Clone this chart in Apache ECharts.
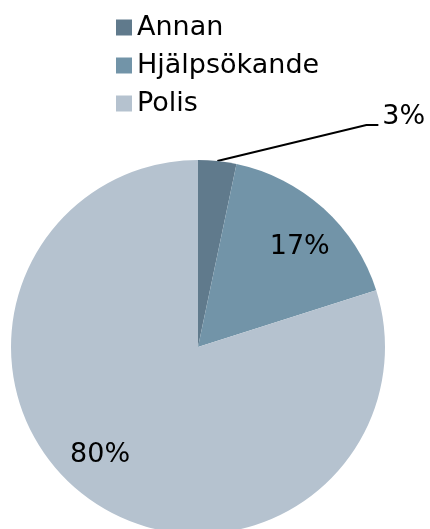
<!DOCTYPE html>
<html>
<head>
<meta charset="utf-8">
<script src="https://cdn.jsdelivr.net/npm/echarts@6/dist/echarts.min.js"></script>
<style>
  html, body { margin: 0; padding: 0; background: #fff; }
  #chart { width: 430px; height: 529px; }
</style>
</head>
<body>
<div id="chart"></div>
<script>
  // andel per kategori (procent)
  const categories = ['Annan', 'Hjälpsökande', 'Polis']
  const values = [3.3, 16.8, 79.9]
  const colors = ['#607a8c', '#7294a8', '#b5c2cf']

  const font = 'DejaVu Sans'

  const chart = echarts.init(document.getElementById('chart'))

  let option = {
    animation: false,
    color: colors,
    legend: {
      orient: 'vertical',
      left: 116,
      top: 14,
      padding: 0,
      itemWidth: 16,
      itemHeight: 16,
      itemGap: 11,
      icon: 'rect',
      data: categories,
      textStyle: {
        fontFamily: font,
        fontSize: 27,
        lineHeight: 27,
        color: '#000'
      }
    },
    series: [
      {
        type: 'pie',
        center: [198, 347],
        radius: 187,
        startAngle: 90,
        clockwise: true,
        percentPrecision: 0,
        emphasis: { disabled: true },
        label: {
          position: 'inside',
          formatter: '{d}%',
          fontFamily: font,
          fontSize: 27,
          color: '#000'
        },
        labelLine: {
          show: false,
          lineStyle: { color: '#000', width: 2 }
        },
        // flytta etiketterna som Excel gör
        labelLayout: function (p) {
          if (p.dataIndex === 0) {
            const s = p.labelLinePoints[0]
            const bend = [s[0] + 149, s[1] - 36]
            const end = [bend[0] + 12, bend[1]]
            return {
              x: end[0] + 4,
              y: end[1] - 8,
              align: 'left',
              verticalAlign: 'middle',
              labelLinePoints: [s, bend, end]
            }
          }
          const off = p.dataIndex === 1 ? [37, -28] : [-41, 30]
          return {
            x: p.labelRect.x + p.labelRect.width / 2 + off[0],
            y: p.labelRect.y + p.labelRect.height / 2 + off[1],
            align: 'center',
            verticalAlign: 'middle'
          }
        },
        data: categories.map((name, i) => {
          let item = { name: name, value: values[i] }
          if (i === 0) {
            item.label = { position: 'outside' }
            item.labelLine = { show: true, length: 20, length2: 12 }
          }
          return item
        })
      }
    ]
  }

  chart.setOption(option)
</script>
</body>
</html>
